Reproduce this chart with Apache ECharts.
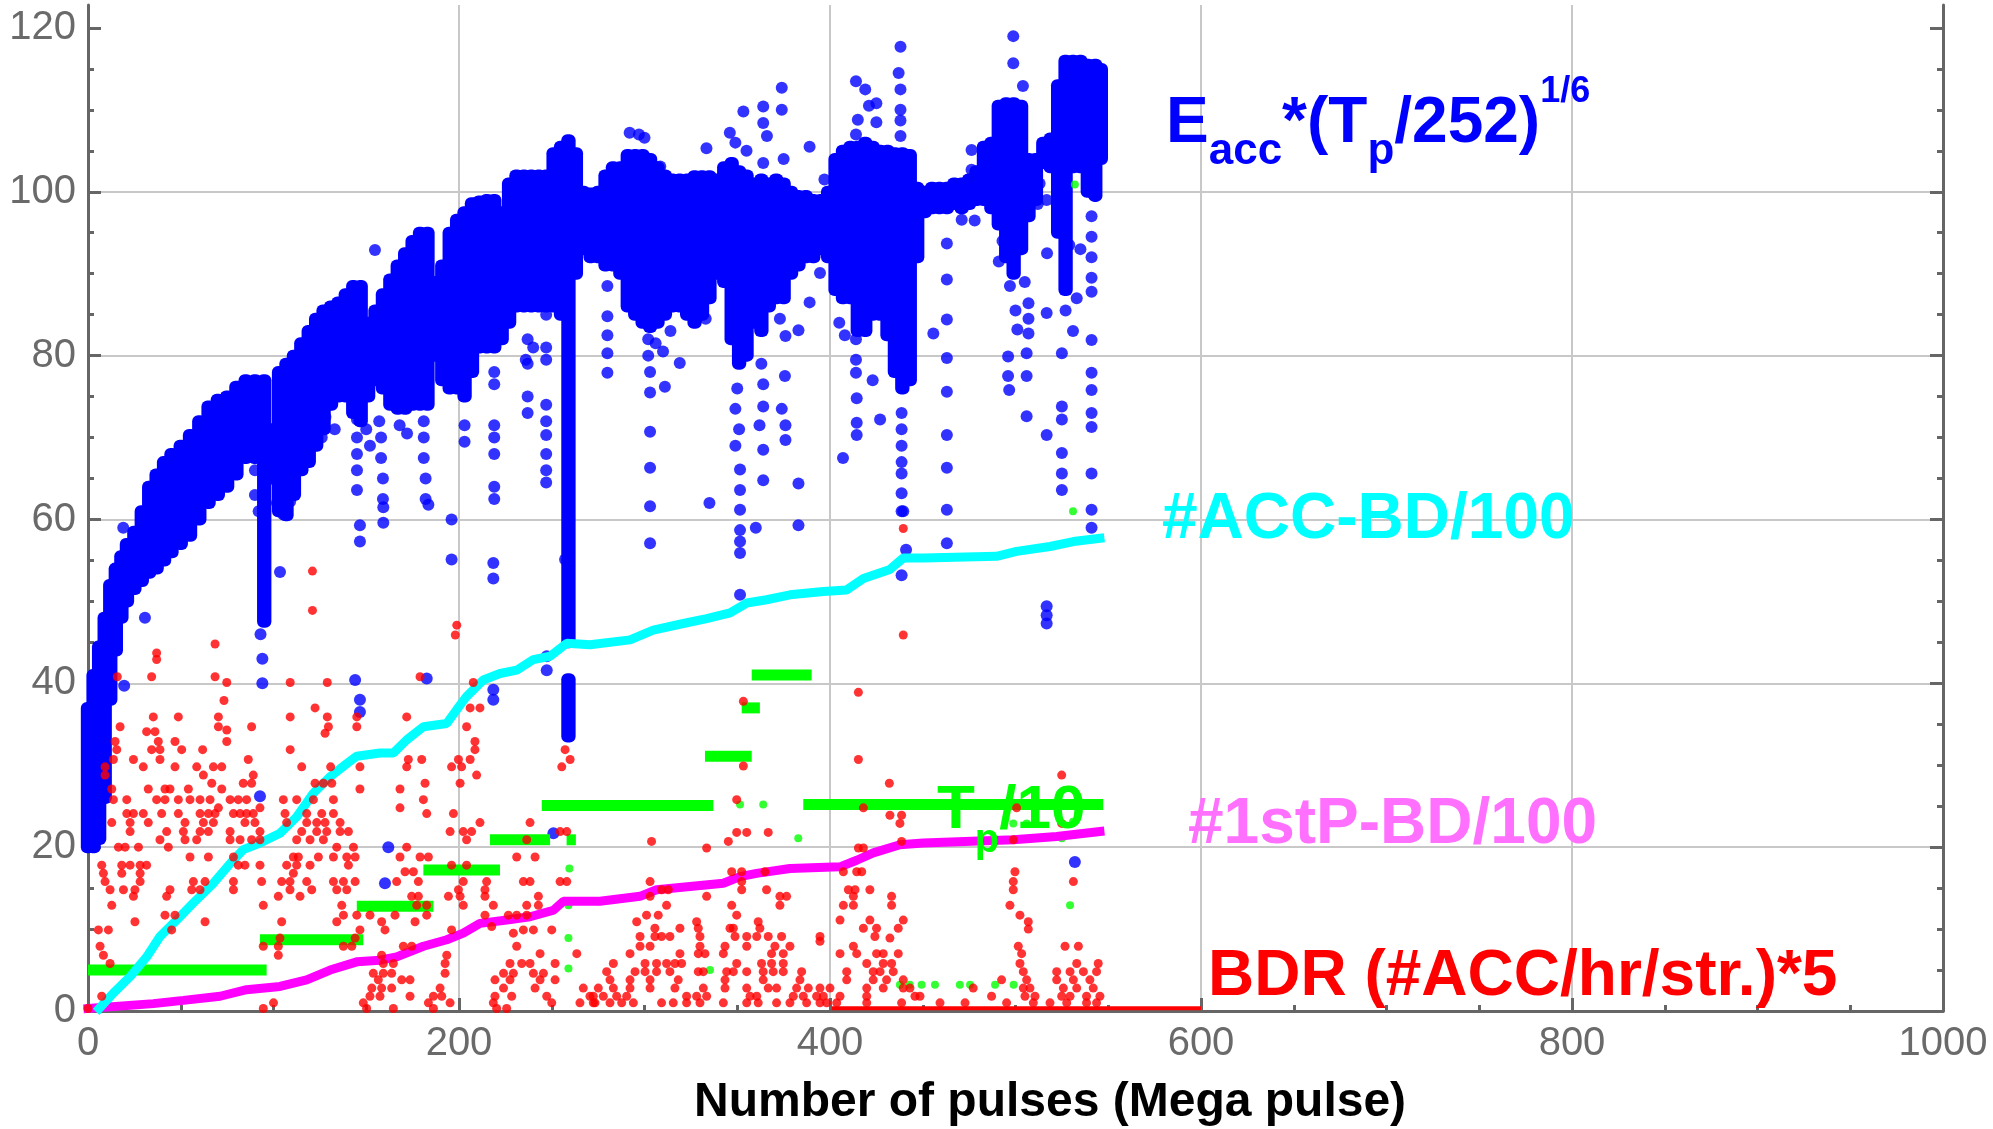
<!DOCTYPE html>
<html><head><meta charset="utf-8">
<script src="https://cdn.jsdelivr.net/npm/echarts@6/dist/echarts.min.js"></script>
<style>html,body{margin:0;padding:0;background:#fff}#c{width:1993px;height:1129px}</style>
</head><body><div id="c"></div>
<script>
// ---------- axis ticks ----------
const xTickValues = [0, 200, 400, 600, 800, 1000];
const yTickValues = [0, 20, 40, 60, 80, 100, 120];
const yMinorValues = [5,10,15,25,30,35,45,50,55,65,70,75,85,90,95,105,110,115];
const xAxisTitle = 'Number of pulses (Mega pulse)';

// ---------- E_acc*(Tp/252)^(1/6): dense band [x, low, high] ----------
const eaccBand = [
[0,20,37],[3,20,41],[6,21,44.5],[9,26,48],[12,38,52],[15,44,54],[18,48,55.5],[21,50,57],[25,51.5,58.5],[29,52.5,61],
[33,53.5,64],[37,54,65.5],[41,55,67],[45,56,68],[50,57,69],[55,58,70.3],[60,60,72],[65,62,73.8],[70,63,74.6],[75,64,75],
[80,65.5,76.2],[85,67.5,77],[90,67.5,77],[95,47.5,77],
[99,65,71],[103,61,78],[107,60.5,79],[111,63,80],[115,66,81.5],[119,67,83],[123,69,84.5],[127,71,85.5],[131,74,86],[135,75,86.5],
[139,75,87.5],[143,73,88.5],[147,72,88.5],[151,75,84],
[155,77,85.5],[159,76,87.5],[163,74,89.3],[167,73.5,91],[171,73.5,92.5],[175,74,94],[179,74,95],[183,74,95],[187,80,89],[191,77,91],
[195,76,95],[199,76,96.6],[203,75,97.5],[207,78,98.6],
[211,81,98.8],[215,81,99],[219,81,99],[223,82,97.5],[227,84,101],[231,86,102],[235,86,102],[239,86,102],[243,86,102],[247,86,102],
[251,86,104.7],[255,85,105.5],[259,45,106.3],[259,33.5,40.5],[263,90,104.7],[267,93,100],[271,92,99.8],
[275,92,100],[279,91,102],[283,91,103],[287,90,103],[291,86,104.5],[295,85,104.5],[299,84,104.5],[303,83.5,104],[307,84,103],[311,85,102],
[315,86,101.5],[319,86,101.5],[323,85,101.5],[327,84,101.9],[331,85,101.9],[335,87,101.9],[339,90,101.5],
[343,89,103],[347,82,103.5],[351,79,102.5],[355,80,102],[359,84,101],[363,83,101.5],[367,86,101],[371,87,101.5],[375,87,101],[379,90,100],
[383,91,99.5],[387,92,99.5],[391,92,99],[395,93,99],[399,92,100],
[403,88,104],[407,87,105],[411,87,105.5],[415,83,105.5],[419,83,106],[423,85,105.5],[427,85,105],[431,82.5,105],[435,78,104.7],[439,76,104.7],
[443,77,104.5],[447,92,100.5],
[451,97.5,100],[455,98,100.5],[459,98,100.5],[463,98,100.5],[467,98.5,101],[471,98,101],[475,98.5,101.5],[479,99,102.5],
[483,99,105.5],[487,98,106],[491,96,110.5],[495,92,110.8],[499,90,110.8],[503,93,110.5],[507,97,104],[511,99,104],
[515,103.5,106],[519,103,106.5],[523,95,113],[527,88,116],[531,103,116],[535,103,116],[539,100,115.5],[543,99.5,115.5],[546,104,115]
];

// ---------- E_acc*(Tp/252)^(1/6): isolated points [x, y] ----------
const eaccDots = [
[19,59],[30.7,48],[19.5,39.7],[93,46],[94,43],[94,40],[92.7,26.2],[103.5,53.6],[105.3,60.6],[109,62.2],[109,64.4],[144,40.4],[146.6,38],[146.6,36.5],
[146.6,59.3],[146.6,57.3],[159.2,61.5],[159.2,59.6],[161.9,20],[160.1,15.6],[182.6,40.6],[183.5,61.8],[196,60],[196,55.1],[218.5,54.7],[218.5,52.8],
[218.5,39.2],[218.5,38],[247.3,43.3],[247.3,41.6],[250.9,21.7],[257.2,55.1],[90,66],[90,63],[92,61],[96,62],[96,65],[128,72.5],[133,71],[126,70],
[145,74],[145,72.2],[145,70],[145,68],[145,66],[145,63.6],[150,71],[152,69],[157,72],[158,70],[158,67.5],[159,65],[159,62.5],[168,71.5],[172,70.5],
[181,72],[181,70],[181,67.5],[182,65],[182,62.5],[203,71.5],[203,69.5],[219,78],[219,76.5],[219,71.5],[219,70],[219,68],[219,64],[219,62.5],
[237,82],[237,79],[237,75],[237,73],[247,85],[247,81],[247,79.5],[247,74],[247,72],[247,70.3],[247,68],[247,66],[247,64.5],[236,79.5],[240,81],[154.7,92.9],
[280,88.5],[280,84.8],[280,82.5],[280,80.3],[280,77.9],[302,82],[302,80],[303,78],[303,75.5],[303,70.7],[303,66.3],[303,61.6],[303,57.1],[306,81.5],
[310,80.5],[314,83],[311,76.2],[319,79.1],[322,86],[333,84.5],[292,107.2],[297,107],[300,106.6],[308.5,103.1],[333.4,105.3],[346,107.2],[349,106],
[353.3,109.8],[355,105],[364,110.4],[364,108.4],[366,106.8],[374,112.7],[374,110],[389,105.5],[375,104],[364,103.5],[397,101.5],[350,76],[349,73.5],
[351,71],[349,69],[351.5,66.1],[351.5,63.6],[351.5,61.2],[363,79],[364,76.5],[364,73.8],[362,71.5],[364,68.5],[364,64.8],[373,84.5],[376,82.4],
[374,73.5],[376,71.5],[376,69.7],[375.7,77.5],[383,83.1],[383,64.4],[394.6,90.1],[389,86.5],
[414,113.5],[419,112.5],[421,110.5],[425,110.8],[425,108.5],[415,108.8],[414,107],[438,117.7],[437,114.5],[438,112.5],[438,110],[438,108.7],[438,106.8],
[414,82],[414,79.5],[414,77.9],[414.4,74.8],[414.4,71.8],[414.4,70.3],[407,67.5],[423,77],[427,72.2],[405,84],[408,82.5],[438.6,73],[438.6,71],
[438.6,69],[438.6,67],[438.6,65.6],[438.6,63.2],[438.6,61],
[447,97.5],[445,94.2],[455.7,82.7],[463,93.7],[463,89.3],[463,84.4],[463,79.7],[463,75.6],[463,70.3],[463,66.3],[463,61.2],[476.3,105.1],[476.3,102.7],
[471,96.6],[478,96.5],[498.8,119],[498.8,115.7],[504,112.9],[496,79.9],[496,77.5],[496.6,75.8],[506,80.3],[506,77.5],[506,72.6],[507,86.4],[507,84.5],
[507,82.7],[500,85.5],[501,83.2],[493,94],[491,91.5],[497,88.5],[505,89],
[516.8,99],[517,92.5],[516.8,85.2],[516.8,70.3],[525,80.3],[525,73.8],[525,72.2],[525,68.1],[525,65.6],[525,63.6],[541,97],[541,94.5],[541,92],
[541,89.5],[541,87.8],[541,81.9],[541,77.9],[541,75.8],[541,73],[541,71.3],[541,65.6],[541,61.2],[529,93.5],[535,93],[527,85.5],[531,83],[533,87],
[513,101],[512,98.5],
[335,62],[351.5,58.7],[351.5,57.3],[351.5,55.9],[360,59],[383,59.3],[351.5,50.8],[439.5,61],[441,56.3],[438.6,53.2],[463,57.1],
[516.8,49.4],[516.8,48.3],[516.8,47.3],[541,59],[532,18.2]
];

// ---------- #ACC-BD/100 (cumulative) ----------
const accBD = [
[6,0.3],[13.7,2.2],[22.7,4.2],[31.6,6.6],[38.8,9.1],[47.8,11.1],[56.8,13.2],[67.6,15.6],[76.6,18.0],[83.7,19.7],[92.7,20.5],[103.5,21.7],
[112.5,23.7],[121.5,26.6],[130.5,28.6],[139.5,30.2],[144.9,31.1],[157.4,31.5],[164.6,31.5],[171.8,33.1],[180.8,34.7],[193.4,35.1],[198.8,36.8],
[204.1,38.4],[213.1,40.4],[222.1,41.2],[231.1,41.6],[240.1,42.9],[249.1,43.3],[258.1,44.9],[270.6,44.7],[292.2,45.3],[304.7,46.5],[320.9,47.3],
[333.5,47.9],[346.1,48.6],[355.1,49.8],[365.8,50.2],[378.4,50.8],[396.4,51.2],[408.9,51.4],[418,52.8],[432.3,53.9],[439.5,55.3],[450.3,55.3],
[489.8,55.5],[500.6,56.1],[518.6,56.7],[531.2,57.3],[545.5,57.7]
];

// ---------- #1stP-BD/100 (cumulative) ----------
const firstPBD = [
[0,0.3],[35.2,0.9],[51.4,1.3],[71.2,1.8],[85.5,2.6],[103.5,3.0],[117.9,3.8],[130.5,5.0],[144.9,6.0],[157.4,6.2],[166.4,6.6],[180.8,7.9],
[193.4,8.7],[202.3,9.5],[211.3,10.7],[225.7,11.1],[238.3,11.5],[250.9,12.3],[256.3,13.4],[276,13.4],[297.6,14.0],[306.5,14.8],[324.5,15.2],
[342.5,15.6],[351.5,16.4],[360.4,16.8],[378.4,17.4],[405.4,17.6],[414.4,18.4],[423.3,19.3],[437.7,20.3],[450.3,20.5],[498.8,20.9],[522.2,21.3],
[545.5,21.9]
];

// ---------- Tp/10: constant levels [xStart, xEnd, value] and single points ----------
const tpLevels = [
[0,96.3,5.0],[92.7,148.4,8.7],[144.9,186.2,12.8],[180.8,222.1,17.2],[216.7,249.1,20.9],[258,263,20.9],[244.6,337.1,25.1],
[332.6,357.8,31.1],[352.4,362.2,37.0],[357.8,390.1,41.0],[385.6,547.3,25.2]
];
const tpDots = [
[259.5,17.4],[259,12.9],[259,8.9],[259,5.2],[351.5,25.2],[364,25.2],[382.9,21.1],[335.3,5],[498.8,22.9],[506,22.9],[531,23.1],
[525,21.1],[529.4,12.9],[531,61],[532,100.9],[437.7,3.2],[443,3.2],[449.4,3.2],[456.6,3.2],[470,3.2],[475.5,3.2],[489,3.2],[499,3.2]
];

// ---------- BDR (#ACC/hr/str.)*5 ----------
const bdr = [
[121,53.7],[121,48.9],[68.5,44.8],[37,43.7],[37,42.9],[198.8,47.1],[198,45.9],[15.8,40.8],[34.3,40.8],[68.5,40.8],[74.8,40.1],[109,40.1],[129,40.1],
[179,40.8],[207.7,40.1],[73.3,37.9],[122.4,37],[206,37],[211.3,37],[35.2,35.9],[48.7,35.9],[70.3,35.9],[109,35.9],[129,35.9],[144.9,35.9],[171.8,35.9],
[17.3,34.7],[70.3,34.7],[74.8,34.3],[88.2,34.7],[129.6,34.7],[144.9,34.7],[204.1,34.7],[31.6,34.1],[36.1,34.1],[127.8,33.9],[14.6,32.9],[37.9,32.9],
[46.9,32.9],[74.8,32.9],[208.6,32.9],[15.5,31.9],[34.3,31.9],[38.8,31.9],[50.5,31.9],[61.8,31.9],[109,31.9],[208.6,31.9],[257.2,31.9],[13.7,30.7],
[24.5,30.7],[38.8,30.7],[86.4,30.7],[172.7,30.7],[179.9,30.7],[199.7,30.7],[206,30.7],[259.9,30.7],[9.2,29.8],[29.8,29.8],[46.9,29.8],[58.6,29.8],
[67.6,29.8],[72.1,29.8],[115.2,29.8],[130.8,29.8],[146.6,29.8],[171.8,29.8],[196,29.8],[201.4,29.8],[255.4,29.8],[9.2,28.8],[62.2,28.8],[89.1,28.8],
[209.5,28.8],[66.7,27.8],[83.7,27.8],[88.2,27.8],[122.4,27.8],[126.9,27.8],[131.4,27.8],[181.7,27.8],[200.6,27.8],[12.8,27.1],[32.5,27.1],[41.5,27.1],
[44.2,27.1],[54.1,27.1],[72.1,27.1],[146.6,27.1],[168.2,27.1],[13.7,25.8],[20.9,25.8],[37,25.8],[41.5,25.8],[48.7,25.8],[55,25.8],[60.4,25.8],
[65.8,25.8],[76.6,25.8],[81,25.8],[85.5,25.8],[105.3,25.8],[112.5,25.8],[121.5,25.8],[132.3,25.8],[168.2,24.8],[180.8,25.8],[20.9,24.1],[24.5,24.1],
[29.8,24.1],[39.7,24.1],[48.7,24.1],[60.4,24.1],[64.9,24.1],[68.5,24.1],[70.3,24.8],[78.4,24.1],[82,24.1],[85.5,24.1],[89.1,24.1],[92.7,24.8],
[106.2,24.1],[117.9,24.1],[126,24.1],[132.3,24.1],[182.6,24.1],[197,24.1],[12.8,23],[22.7,23],[32.5,23],[52.3,23],[62.2,23],[67.6,23],[84.6,23],
[90,23],[107.1,23],[117.9,23],[123.3,23],[127.8,23],[135.9,23],[211.3,23],[238.3,23],[22.7,21.9],[42.4,21.9],[51.4,21.9],[60.4,21.9],[64.9,21.9],
[76.6,21.9],[92.7,21.9],[115.2,21.9],[123.3,21.9],[128.7,21.9],[135.9,21.9],[140.4,21.9],[195.2,21.9],[202.3,21.9],[206.8,21.9],[254.5,21.9],
[258.1,21.9],[38.8,20.9],[52.3,20.9],[58.6,20.9],[76.6,20.9],[82,20.9],[88.2,20.9],[92.7,20.9],[112.5,20.9],[119.7,20.9],[126.9,20.9],[204.1,20.9],
[236.5,20.9],[16.4,20],[20,20],[27.2,20],[43.3,20],[134.1,20],[143.1,20],[171.8,20],[55,18.8],[64.9,18.8],[78.4,18.8],[110.7,18.8],[113.4,18.8],
[124.2,18.8],[132.3,18.8],[139.5,18.8],[144,18.8],[168.2,18.8],[179,18.8],[183.5,18.8],[231.1,18.8],[241,18.8],[7.4,17.8],[18.2,17.8],[22.7,17.8],
[28.1,17.8],[31.6,17.8],[81,17.8],[84.6,17.8],[92.7,17.8],[107.1,17.8],[112.5,17.8],[119.7,17.8],[140.4,17.8],[196,17.8],[204.1,17.8],[8.3,16.8],
[18.2,16.8],[28.1,16.8],[110.7,16.8],[170.9,17],[175.4,17],[9.2,15.8],[28.1,15.8],[56.8,15.8],[63.1,15.8],[78.4,15.8],[93.6,15.8],[104.4,15.8],
[108.9,15.8],[117.9,15.8],[132.3,15.8],[137.7,15.8],[144,15.8],[166.4,15.8],[178.1,15.8],[202.3,15.8],[214.9,15.8],[234.7,15.8],[238.3,15.8],
[254.5,15.8],[258.1,15.8],[11.9,14.8],[19.1,14.8],[25.3,14.8],[44.2,14.8],[55.9,14.8],[60.4,14.8],[78.4,14.8],[108.9,14.8],[120.6,14.8],[134.1,14.8],
[139.5,14.8],[199.7,14.8],[214,14.8],[24.5,14],[42.4,14],[102.6,14],[114.3,14],[174.5,14],[178.1,14],[194.3,14],[200.6,14],[214,14],[242.8,14],
[12.8,12.9],[94.5,12.9],[136.8,12.9],[177.2,12.9],[182.6,12.9],[202.3,12.9],[218.5,12.9],[236.5,12.9],[242.8,12.9],[41.5,11.7],[46.9,11.7],
[137.7,11.7],[144.9,11.7],[152,11.7],[165.5,11.7],[182.6,11.7],[214,11.7],[226.6,11.7],[231.1,11.7],[236.5,11.7],[25.3,10.9],[63.1,10.9],[104.4,10.9],
[134.1,10.9],[158.3,10.9],[176.3,10.9],[5.6,9.9],[11,9.9],[45.1,9.9],[146.6,9.9],[160.1,9.9],[196,9.9],[234.7,9.9],[240.1,9.9],[250,9.9],[103.5,8.9],
[144,8.9],[217.6,10.3],[229.3,9.5],[6.5,7.9],[94.5,7.9],[102.6,7.9],[137.7,7.9],[142.2,7.9],[170,7.9],[174.5,7.9],[231.1,7.9],[8.3,6.8],[102.6,6.8],
[158.3,6.8],[193.4,6.8],[243.7,7],[263.5,7],[11.9,5.8],[159.2,5.8],[164.6,5.8],[192.5,5.8],[227.5,5.8],[233.8,5.8],[238.3,5.8],[251.8,5.8],
[153.8,4.6],[159.2,4.6],[163.7,4.6],[192.5,4.6],[224,4.6],[229.3,4.6],[240.1,4.6],[245.5,4.6],[156.5,3.8],[169.1,3.8],[173.6,3.8],[219.4,3.8],
[227.5,3.8],[243.7,3.8],[251.8,3.8],[153,2.8],[158.3,2.8],[163.7,2.8],[189.8,2.8],[224,2.8],[241,2.8],[267,2.8],[7.4,1.8],[152,1.8],[157.4,1.8],
[173.6,1.8],[186.2,1.8],[190.7,1.8],[219.4,1.8],[228.4,1.8],[247.3,1.8],[270.6,1.8],[100,1],[148.4,1],[183.5,1],[195.2,1],[218.5,1],[250,1],
[265.2,1],[272.4,1],[0,0.3],[94.5,0.3],[150.2,0.3],[164.6,0.3],[186.2,0.3],[220.3,0.3],[225.7,0.3],
[439.5,58.9],[439.5,45.9],[415.3,38.9],[353.3,37.8],[415.3,30.7],[353.3,29.9],[432,27.8],[524.9,28.8],[349.7,25.8],[418,24.8],[432.3,23.9],
[438.6,23.9],[437.7,22.9],[500.6,24.8],[524.9,22.9],[349.7,21.8],[355.1,21.8],[366.7,21.8],[303.8,20.7],[345.2,20.7],[333.5,19.9],[438.6,20.7],
[498.8,20.9],[415.3,19.9],[418,19.9],[303,15.8],[347,17],[352.4,17],[364.9,17],[407.2,17],[414.4,17],[417.1,17],[499.7,17],[352.4,15.8],[531.2,15.8],
[498.8,15.8],[309.2,14.8],[312.8,14.8],[352.4,14.8],[365.8,14.8],[409.9,14.8],[413.5,14.8],[421.5,14.8],[498.8,14.8],[303,14],[333.5,14],[373,14],
[376.6,14],[412.6,14],[433.2,14],[311.9,12.9],[347,12.9],[373,12.9],[407.2,12.9],[412.6,12.9],[433.2,12.9],[497,12.9],[301.1,11.7],[307.4,11.7],
[349.7,11.7],[502.4,11.7],[295.8,10.9],[328.1,10.9],[361.3,10.9],[405.4,11.1],[421.5,11.1],[439.5,11.1],[506.9,10.9],[305.6,10.1],[319.1,10.1],
[329,10.1],[346.1,10.1],[347.9,10.1],[362.2,10.1],[418,10.1],[425.1,10.1],[436.8,10.1],[506.9,10],[297.6,9.1],[305.6,9.1],[309.2,9.1],[313.7,9.1],
[329.9,9.1],[348.8,9.1],[355.1,9.1],[360.5,9.1],[366.7,9.1],[373.9,9.1],[394.6,9.1],[412.6,7.9],[424.2,9.1],[432.3,8.9],[297.6,7.9],[303,7.9],
[329.9,7.9],[343.4,7.9],[355.1,7.9],[370.3,7.9],[378.4,7.9],[394.6,8.5],[501.5,7.9],[526.7,7.9],[533.9,7.9],[292.2,7],[319.1,7],[329,7],[332.6,7],
[342.5,7],[368.5,7],[374.8,7],[405.4,7],[414.4,7],[425.1,7],[428.7,7],[436.8,7],[503.3,7],[283.2,5.8],[300.3,5.8],[306.5,5.8],[311.9,5.8],[316.4,5.8],
[320,5.8],[349.7,5.8],[363.1,5.8],[368.5,5.8],[374.8,5.8],[419.8,5.8],[428.7,5.8],[433.2,5.8],[502.4,5.8],[533,5.8],[544.6,5.8],[279.6,4.8],[294.9,4.8],
[300.3,4.8],[306.5,4.8],[313.7,4.8],[329,4.8],[331.7,4.8],[344.3,4.8],[347.9,4.8],[355.1,4.8],[364,4.8],[369.4,4.8],[374.8,4.8],[384.7,4.8],[409,4.8],
[423.3,4.8],[427,4.8],[434.1,4.8],[504.2,4.8],[522.2,4.8],[529.4,4.8],[536.6,4.8],[543.7,4.8],[281.4,3.8],[292.2,3.8],[303,3.8],[318.2,3.8],[343.4,3.8],
[364,3.8],[383.8,3.8],[409,3.8],[423.3,3.8],[430.5,3.8],[439.5,3.8],[492.5,3.8],[506,3.8],[522.2,3.8],[531.2,3.8],[540.1,3.8],[275.1,2.8],[283.2,2.8],
[292.2,2.8],[303,2.8],[316.4,2.8],[331.7,2.8],[343.4,2.8],[355.1,2.8],[366.7,2.8],[371.2,2.8],[382,2.8],[388.3,2.8],[394.6,2.8],[400,2.8],[419.8,2.8],
[428.7,2.8],[439.5,2.8],[443.1,2.8],[477.2,2.8],[504.2,2.8],[507.8,2.8],[525.8,2.8],[533,2.8],[541.9,2.8],[272.4,1.8],[277.8,1.8],[285,1.8],[290.4,1.8],
[322.7,1.8],[328.1,1.8],[333.5,1.8],[356.9,1.8],[360.5,1.8],[380.2,1.8],[385.6,1.8],[392.8,1.8],[396.4,1.8],[405.4,1.8],[419.8,1.8],[445.8,1.8],
[448.5,1.8],[487.1,1.8],[505.1,1.8],[510.5,1.8],[524.9,1.8],[529.4,1.8],[538.3,1.8],[545.5,1.8],[273.3,1],[281.4,1],[287.7,1],[294,1],[309.2,1],
[315.5,1],[322.7,1],[329.9,1],[342.5,1],[355.1,1],[361.3,1],[371.2,1],[378.4,1],[387.4,1],[394.6,1],[398.2,1],[403.6,1],[419.8,1],[438.6,1],[459.3,1],
[472.8,1],[495.2,1],[509.6,1],[518.6,1],[527.6,1],[538.3,1],[543.7,1]
];
// BDR runs read along the bottom of the plot [xStart, xEnd, value]
const bdrRuns = [[401, 600, 0.35]];

// ---------- annotation texts ----------
const labelEacc = '{m|E}{s|acc}{m|*(T}{s|p}{m|/252)}{p|1/6}';
const labelAcc = '#ACC-BD/100';
const labelTp = '{m|T}{s|p}{m|/10}';
const label1st = '#1stP-BD/100';
const labelBdr = 'BDR (#ACC/hr/str.)*5';

// ================= chart =================
const FONT = "'Liberation Sans', Arial, Helvetica, sans-serif";
const AXIS_COLOR = '#666666';
const GRID_COLOR = '#c8c8c8';
const LABEL_COLOR = '#6a6a6a';

function tickAxis(pos, values, len, showLine) {
  return {
    type: 'value', position: pos, min: 0, max: 122.8,
    axisLine: { show: showLine, lineStyle: { color: AXIS_COLOR, width: 3 } },
    axisTick: { show: true, inside: true, length: len, customValues: values, lineStyle: { color: AXIS_COLOR, width: 3 } },
    axisLabel: { show: false },
    splitLine: { show: false }
  };
}

const chart = echarts.init(document.getElementById('c'), null, { renderer: 'canvas' });

function bandRender(params, api) {
  const x = api.value(0), lo = api.value(1), hi = api.value(2);
  const top = api.coord([x, hi]);
  const bot = api.coord([x, lo]);
  const w = api.size([4.5, 0])[0] + 6;
  const r = 6;
  return {
    type: 'rect',
    shape: { x: top[0] - w / 2, y: top[1] - r, width: w, height: bot[1] - top[1] + 2 * r, r: r },
    style: { fill: '#0000ff' }
  };
}
function levelRender(color, thick) {
  return function (params, api) {
    const a = api.coord([api.value(0), api.value(2)]);
    const b = api.coord([api.value(1), api.value(2)]);
    return { type: 'rect', shape: { x: a[0], y: a[1] - thick / 2, width: b[0] - a[0], height: thick }, style: { fill: color } };
  };
}

chart.setOption({
  animation: false,
  backgroundColor: '#ffffff',
  grid: { left: 88, right: 50, top: 5, bottom: 118, containLabel: false },
  xAxis: {
    type: 'value', min: 0, max: 1000, interval: 200,
    axisLine: { show: true, onZero: false, lineStyle: { color: AXIS_COLOR, width: 3 } },
    axisTick: { show: true, inside: true, length: 13, lineStyle: { color: AXIS_COLOR, width: 3 } },
    minorTick: { show: true, splitNumber: 4, length: 6, lineStyle: { color: AXIS_COLOR, width: 3 } },
    axisLabel: { show: true, fontSize: 40, fontFamily: FONT, color: LABEL_COLOR, margin: 13,
      customValues: xTickValues, formatter: function (v) { return String(v); } },
    splitLine: { show: true, showMinLine: false, showMaxLine: false, lineStyle: { color: GRID_COLOR, width: 2 } }
  },
  yAxis: [
    {
      type: 'value', position: 'left', min: 0, max: 122.8,
      axisLine: { show: true, onZero: false, lineStyle: { color: AXIS_COLOR, width: 3 } },
      axisTick: { show: true, inside: true, length: 13, customValues: yTickValues, lineStyle: { color: AXIS_COLOR, width: 3 } },
      axisLabel: { show: true, fontSize: 40, fontFamily: FONT, color: LABEL_COLOR, margin: 12, customValues: yTickValues,
        formatter: function (v) { return String(v); } },
      splitLine: { show: true, showMinLine: false, showMaxLine: false, lineStyle: { color: GRID_COLOR, width: 2 } }
    },
    tickAxis('left', yMinorValues, 6, false),
    tickAxis('right', yTickValues, 13, true),
    tickAxis('right', yMinorValues, 6, false)
  ],
  series: [
    { name: 'Eacc band', type: 'custom', z: 1, data: eaccBand, encode: { x: 0, y: [1, 2] }, renderItem: bandRender, silent: true },
    { name: 'Eacc', type: 'scatter', z: 1, data: eaccDots, symbol: 'circle', symbolSize: 12, itemStyle: { color: '#0000ff' }, silent: true },
    { name: 'Tp/10', type: 'custom', z: 2, data: tpLevels, encode: { x: [0, 1], y: 2 }, renderItem: levelRender('#00ff00', 11), silent: true },
    { name: 'Tp/10 pts', type: 'scatter', z: 2, data: tpDots, symbol: 'circle', symbolSize: 8, itemStyle: { color: '#00ff00' }, silent: true },
    { name: '#1stP-BD/100', type: 'line', z: 3, data: firstPBD, showSymbol: false, lineStyle: { color: '#ff00ff', width: 9, cap: 'square' }, silent: true },
    { name: '#ACC-BD/100', type: 'line', z: 3, data: accBD, showSymbol: false, lineStyle: { color: '#00ffff', width: 9, cap: 'square' }, silent: true },
    { name: 'BDR run', type: 'custom', z: 4, data: bdrRuns, encode: { x: [0, 1], y: 2 }, renderItem: levelRender('#ff0000', 4), silent: true },
    { name: 'BDR', type: 'scatter', z: 5, data: bdr, symbol: 'circle', symbolSize: 9, itemStyle: { color: '#ff0000' }, silent: true }
  ],
  graphic: [
    { type: 'text', x: 1166, y: 74, z: 100, style: {
        text: labelEacc, align: 'left', verticalAlign: 'top',
        rich: {
          m: { fontSize: 64, fontWeight: 'bold', fontFamily: FONT, fill: '#0000ff', lineHeight: 100 },
          s: { fontSize: 44, fontWeight: 'bold', fontFamily: FONT, fill: '#0000ff', lineHeight: 62, verticalAlign: 'bottom' },
          p: { fontSize: 36, fontWeight: 'bold', fontFamily: FONT, fill: '#0000ff', lineHeight: 75, verticalAlign: 'top' }
        } } },
    { type: 'text', x: 1162, y: 520, z: 100, style: { text: labelAcc, align: 'left', verticalAlign: 'middle',
        fontSize: 64, fontWeight: 'bold', fontFamily: FONT, fill: '#00ffff' } },
    { type: 'text', x: 937, y: 761, z: 100, style: {
        text: labelTp, align: 'left', verticalAlign: 'top',
        rich: {
          m: { fontSize: 62, fontWeight: 'bold', fontFamily: FONT, fill: '#00ff00', lineHeight: 100 },
          s: { fontSize: 40, fontWeight: 'bold', fontFamily: FONT, fill: '#00ff00', lineHeight: 56, verticalAlign: 'bottom' }
        } } },
    { type: 'text', x: 1188, y: 825, z: 100, style: { text: label1st, align: 'left', verticalAlign: 'middle',
        fontSize: 64, fontWeight: 'bold', fontFamily: FONT, fill: '#ff70ff' } },
    { type: 'text', x: 1208, y: 977, z: 100, style: { text: labelBdr, align: 'left', verticalAlign: 'middle',
        fontSize: 64, fontWeight: 'bold', fontFamily: FONT, fill: '#ff0000' } },
    { type: 'text', x: 694, y: 1103, z: 100, style: { text: xAxisTitle, align: 'left', verticalAlign: 'middle',
        fontSize: 48, fontWeight: 'bold', fontFamily: FONT, fill: '#000000' } }
  ]
});
</script>
</body></html>
